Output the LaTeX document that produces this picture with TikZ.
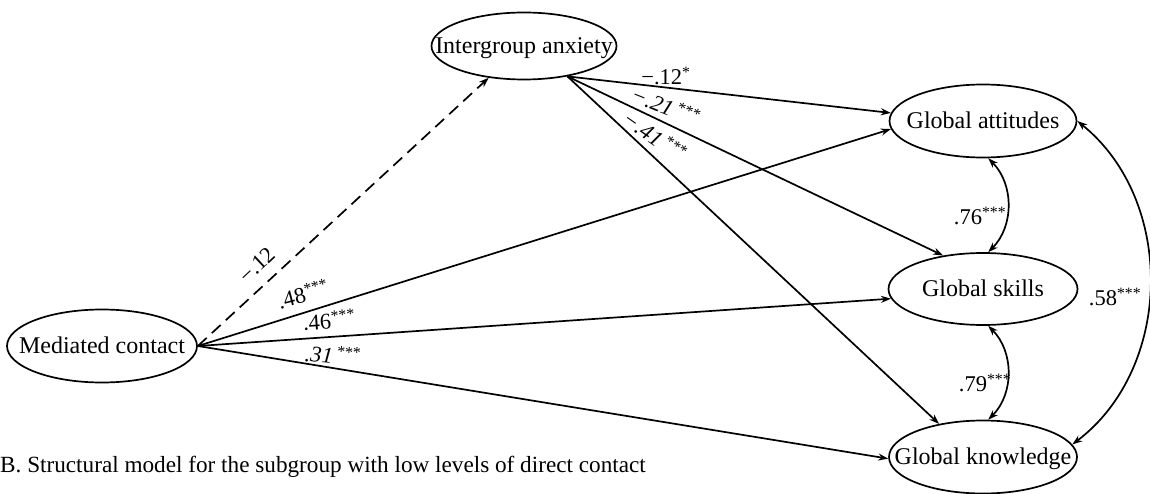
\documentclass[tikz,border=0pt]{standalone}
\usepackage{fontspec}
\setmainfont{Liberation Serif}
\usetikzlibrary{arrows.meta,shapes.geometric}

\begin{document}
\begin{tikzpicture}[x=1pt,y=-1pt,
  latent/.style={draw, ellipse, line width=1.7pt, inner sep=0pt,
    font=\fontsize{24}{24}\selectfont},
  tip/.tip={Stealth[length=10pt,width=7pt]},
  regpath/.style={line width=1.7pt, -tip},
  dashpath/.style={regpath, dash pattern=on 12pt off 7pt},
  cov/.style={line width=1.7pt, tip-tip},
  coef/.style={font=\fontsize{22.5}{24}\selectfont, inner sep=0pt}]
\useasboundingbox (0,0) rectangle (1150,494);

% constructs: the ellipse size is fixed, the label is centred in it
\newcommand{\lbl}[1]{\makebox[0pt]{\raisebox{-0.3em}[0pt][0pt]{#1}}}
\node[latent, minimum width=185pt, minimum height=67pt] (ia) at (524,46) {\lbl{Intergroup anxiety}};
\node[latent, minimum width=190pt, minimum height=73pt] (mc) at (102,346) {\lbl{Mediated contact}};
\node[latent, minimum width=187pt, minimum height=73pt] (ga) at (983,121) {\lbl{Global attitudes}};
\node[latent, minimum width=189pt, minimum height=72pt] (gs) at (983,289) {\lbl{Global skills}};
\node[latent, minimum width=188pt, minimum height=73pt] (gk) at (983,457) {\lbl{Global knowledge}};

% structural paths
\draw[dashpath] (mc.east) -- (ia.-138);
\draw[regpath] (ia.-35) -- (ga.175);
\draw[regpath] (ia.-35) -- (gs.140);
\draw[regpath] (ia.-35) -- (gk.143);
\draw[regpath] (mc.east) -- (ga.185);
\draw[regpath] (mc.east) -- (gs.186);
\draw[regpath] (mc.east) -- (gk.181);

% residual covariances
\draw[cov] (ga.-82) to[bend left=45] (gs.82);
\draw[cov] (gs.-82) to[bend left=45] (gk.82);
\draw[cov] (ga.east) to[bend left=52] (gk.8);

% coefficients
\node[coef] (c1) at (666,76) {−.12\textsuperscript{*}};
\node[coef, rotate=-22] (c2) at (666,106) {\itshape −.21\,\textsuperscript{\upshape ***}};
\node[coef, rotate=-35] (c3) at (655,136) {\itshape −.41\,\textsuperscript{\upshape ***}};
\node[coef, rotate=43] (c4) at (257,265) {−.12};
\node[coef, rotate=15] (c5) at (303,294) {.48\textsuperscript{***}};
\node[coef, rotate=4] (c6) at (329,320) {.46\textsuperscript{***}};
\node[coef, rotate=-5] (c7) at (333,355) {\itshape .31\,\textsuperscript{\upshape ***}};
\node[coef] (c8) at (980,216) {.76\textsuperscript{***}};
\node[coef] (c9) at (985,383) {.79\textsuperscript{***}};
\node[coef] (c10) at (1115,297) {.58\textsuperscript{***}};

% caption
\node[anchor=base west, inner sep=0pt, font=\fontsize{23.2}{23.2}\selectfont] (cap) at (0,472)
  {B. Structural model for the subgroup with low levels of direct contact};
\end{tikzpicture}
\end{document}
